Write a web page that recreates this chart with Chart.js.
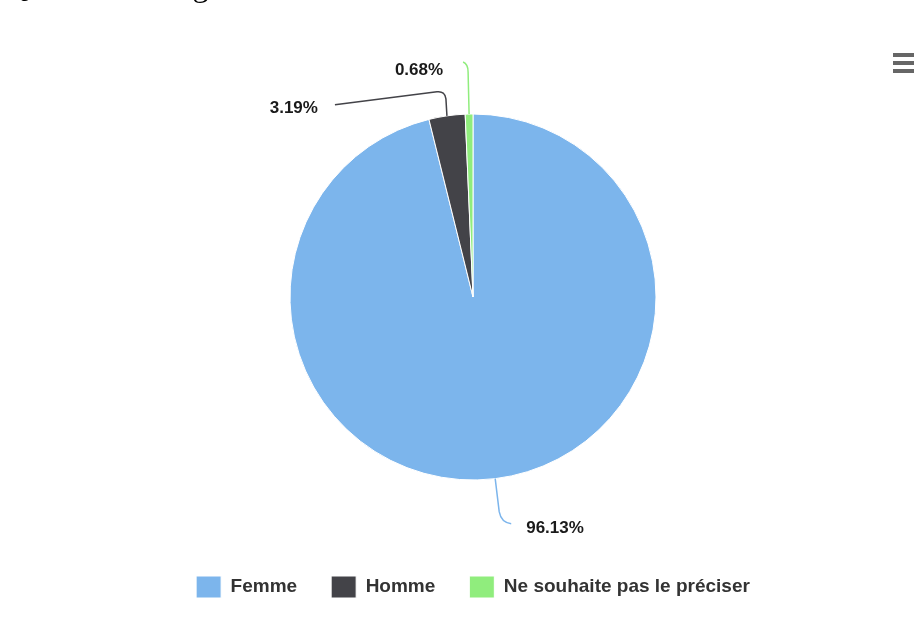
<!DOCTYPE html>
<html>
<head>
<meta charset="utf-8">
<script src="https://cdn.jsdelivr.net/npm/chart.js@4.4.1/dist/chart.umd.min.js"></script>
<style>
  html, body { margin: 0; padding: 0; background: #fff; overflow: hidden; }
  #wrap { position: relative; width: 914px; height: 626px; }
  #heading {
    position: absolute; left: 5px; top: -31px; margin: 0;
    font: 32px "Liberation Serif", serif; line-height: 32px; color: #000; white-space: nowrap;
  }
  #menu { position: absolute; left: 893px; top: 53px; width: 21px; }
  #menu span { display: block; height: 4px; background: #666; margin-bottom: 4px; }
</style>
</head>
<body>
<div id="wrap">
  <h2 id="heading">Quel est votre genre ?</h2>
  <canvas id="chart" width="914" height="626"></canvas>
  <div id="menu"><span></span><span></span><span></span></div>
</div>
<script>
const categories = ['Femme', 'Homme', 'Ne souhaite pas le préciser'];
const percentages = [96.13, 3.19, 0.68];
const colors = ['#7cb5ec', '#434348', '#90ed7d'];

// connector shape for each slice, relative to the point on the rim at the slice middle:
// straight part, curve control, curve end, optional tail, label anchor + alignment
const connectors = [
  { line: [4, 33], ctrl: [6, 44], end: [16, 45], tail: null, label: [31, 50], align: 'left' },
  { line: [-1, -17], ctrl: [-2, -25], end: [-10, -24], tail: [-112, -11], label: [-129, -8], align: 'right' },
  { line: [-1, -42], ctrl: [-1, -50], end: [-6, -52], tail: null, label: [-26, -44], align: 'right' }
];

const pieLabels = {
  id: 'pieLabels',
  afterDatasetsDraw(chart) {
    const ctx = chart.ctx;
    const meta = chart.getDatasetMeta(0);
    meta.data.forEach((arc, i) => {
      const p = arc.getProps(['x', 'y', 'startAngle', 'endAngle', 'outerRadius'], true);
      const mid = (p.startAngle + p.endAngle) / 2;
      const ex = p.x + p.outerRadius * Math.cos(mid);
      const ey = p.y + p.outerRadius * Math.sin(mid);
      const c = connectors[i];

      ctx.save();
      ctx.strokeStyle = colors[i];
      ctx.lineWidth = 1.5;
      ctx.beginPath();
      ctx.moveTo(ex, ey);
      ctx.lineTo(ex + c.line[0], ey + c.line[1]);
      ctx.quadraticCurveTo(ex + c.ctrl[0], ey + c.ctrl[1], ex + c.end[0], ey + c.end[1]);
      if (c.tail) ctx.lineTo(ex + c.tail[0], ey + c.tail[1]);
      ctx.stroke();

      ctx.font = 'bold 17px "Liberation Sans", Arial, sans-serif';
      ctx.fillStyle = '#1a1a1a';
      ctx.textAlign = c.align;
      ctx.textBaseline = 'middle';
      ctx.fillText(percentages[i].toFixed(2) + '%', ex + c.label[0], ey + c.label[1]);
      ctx.restore();
    });
  }
};

new Chart(document.getElementById('chart'), {
  type: 'pie',
  data: {
    labels: categories,
    datasets: [{
      data: percentages,
      backgroundColor: colors,
      borderColor: '#ffffff',
      borderWidth: 1
    }]
  },
  options: {
    responsive: false,
    animation: false,
    radius: 183,
    layout: { padding: { left: 32, right: 0, top: 52, bottom: 18 } },
    plugins: {
      tooltip: { enabled: false },
      legend: {
        position: 'bottom',
        labels: {
          boxWidth: 25,
          boxHeight: 22,
          padding: 34,
          color: '#333',
          font: { family: '"Liberation Sans", Arial, sans-serif', size: 19, weight: 'bold' }
        }
      }
    }
  },
  plugins: [pieLabels]
});
</script>
</body>
</html>
